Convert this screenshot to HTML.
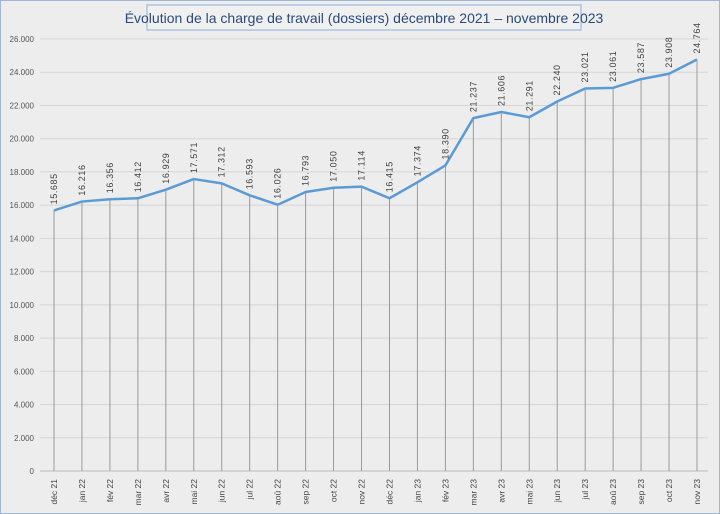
<!DOCTYPE html>
<html><head><meta charset="utf-8"><style>
body{margin:0;background:#ededed;}
svg{display:block;font-family:"Liberation Sans",sans-serif;}
</style></head><body>
<svg id="c" width="720" height="514">
<rect x="0.5" y="0.5" width="719" height="513" fill="#ededed" stroke="#9fb7d4"/>
<rect x="147" y="5" width="434" height="25" fill="#f0f0f0" stroke="#8fb0d8"/>
<text x="364" y="23" text-anchor="middle" font-size="14" fill="#2a4a7a">Évolution de la charge de travail (dossiers) décembre 2021 – novembre 2023</text>
<g id="grid"></g><g id="drops"></g><g id="series"></g><g id="labels"></g>
</svg>
<script>
const categories=["déc 21","jan 22","fév 22","mar 22","avr 22","mai 22","jun 22","jul 22","aoû 22","sep 22","oct 22","nov 22","déc 22","jan 23","fév 23","mar 23","avr 23","mai 23","jun 23","jul 23","aoû 23","sep 23","oct 23","nov 23"];
const values=[15685,16216,16356,16412,16929,17571,17312,16593,16026,16793,17050,17114,16415,17374,18390,21237,21606,21291,22240,23021,23061,23587,23908,24764];
const valueLabels=["15.685","16.216","16.356","16.412","16.929","17.571","17.312","16.593","16.026","16.793","17.050","17.114","16.415","17.374","18.390","21.237","21.606","21.291","22.240","23.021","23.061","23.587","23.908","24.764"];
const yTicks=[0,2000,4000,6000,8000,10000,12000,14000,16000,18000,20000,22000,24000,26000];
const yTickLabels=["0","2.000","4.000","6.000","8.000","10.000","12.000","14.000","16.000","18.000","20.000","22.000","24.000","26.000"];
const NS="http://www.w3.org/2000/svg";
const x0=54,x1=697,yb=471,yt=39,ymax=26000;
const xs=i=>x0+(x1-x0)*i/(categories.length-1);
const ys=v=>yb-(yb-yt)*v/ymax;
function mk(t,a,p){const e=document.createElementNS(NS,t);for(const k in a)e.setAttribute(k,a[k]);document.getElementById(p).appendChild(e);return e;}
yTicks.forEach((v,i)=>{
 const l=mk("line",{x1:40,x2:708,y1:ys(v),y2:ys(v),stroke:"#d6d6d6","stroke-width":1},"grid");
 
 
 const t=mk("text",{x:34,y:ys(v)+3,"text-anchor":"end","font-size":8,fill:"#555"},"grid");
 t.textContent=yTickLabels[i];
 
 
});
const ax=mk("line",{x1:40,x2:708,y1:yb,y2:yb,stroke:"#bbb"},"grid");


let pts=[];
values.forEach((v,i)=>{
 const x=xs(i),y=ys(v);pts.push(x+","+y);
 const d=mk("line",{x1:x,x2:x,y1:y,y2:yb,stroke:"#9a9a9a","stroke-width":1},"drops");
 
 
 const lb=mk("text",{x:0,y:0,"font-size":9,fill:"#404040","letter-spacing":"0.6",transform:`translate(${x+3},${y-6}) rotate(-90)`},"labels");
 lb.textContent=valueLabels[i];
 
 
 const c=mk("text",{x:0,y:0,"font-size":8.5,fill:"#444","text-anchor":"end",transform:`translate(${x+3},${yb+8}) rotate(-90)`},"labels");
 c.textContent=categories[i];
 
 
});
const pl=mk("polyline",{points:pts.join(" "),fill:"none",stroke:"#5b9bd5","stroke-width":2.5,"stroke-linejoin":"round"},"series");


</script>
</body></html>
